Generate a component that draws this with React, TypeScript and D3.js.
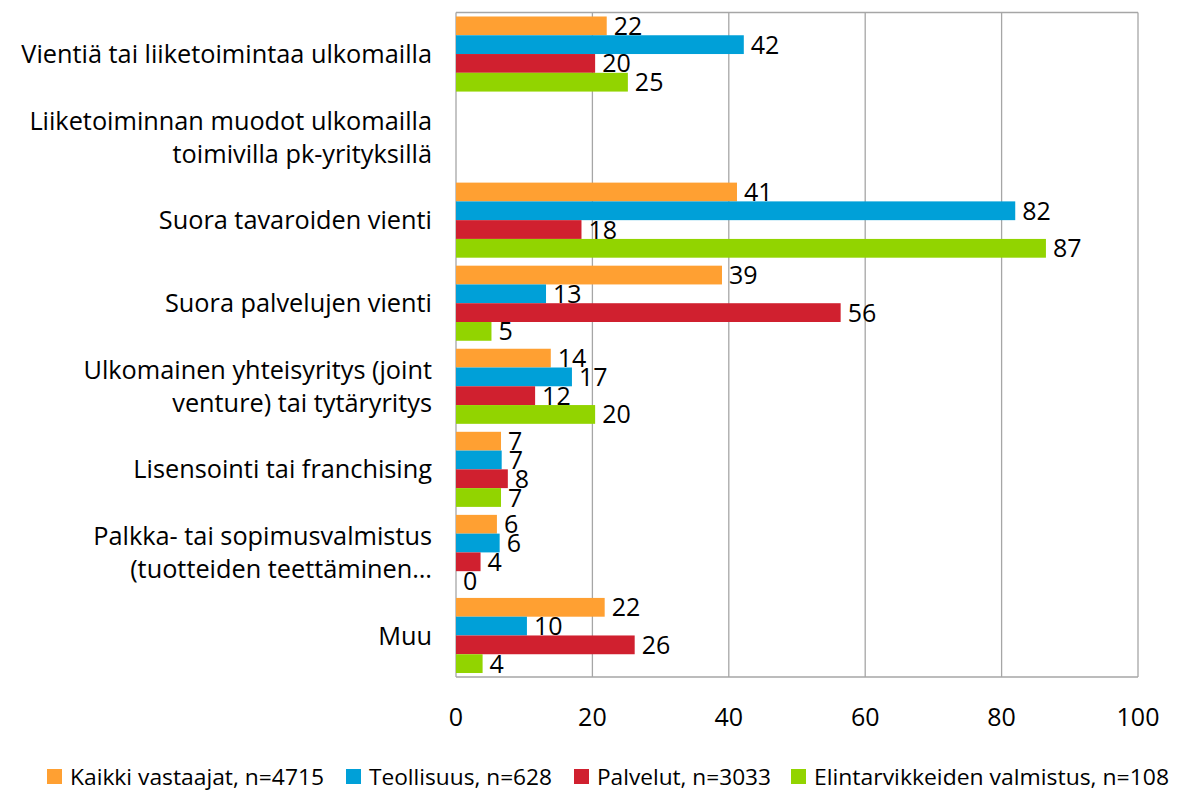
import React from "react";
import * as d3 from "d3";

const categories: string[][] = [
  ["Vientiä tai liiketoimintaa ulkomailla"],
  ["Liiketoiminnan muodot ulkomailla", "toimivilla pk-yrityksillä"],
  ["Suora tavaroiden vienti"],
  ["Suora palvelujen vienti"],
  ["Ulkomainen yhteisyritys (joint", "venture) tai tytäryritys"],
  ["Lisensointi tai franchising"],
  ["Palkka- tai sopimusvalmistus", "(tuotteiden teettäminen…"],
  ["Muu"],
];

const seriesNames = [
  "Kaikki vastaajat, n=4715",
  "Teollisuus, n=628",
  "Palvelut, n=3033",
  "Elintarvikkeiden valmistus, n=108",
];
const seriesColors = ["#FFA032", "#00A0D8", "#D0202F", "#92D400"];

// null = no bar / no label (header row)
const kaikki: (number | null)[] = [22.1, null, 41.2, 39.0, 13.9, 6.6, 6.0, 21.8];
const teollisuus: (number | null)[] = [42.2, null, 82.0, 13.2, 17.0, 6.7, 6.4, 10.4];
const palvelut: (number | null)[] = [20.4, null, 18.4, 56.4, 11.6, 7.6, 3.6, 26.2];
const elintarvike: (number | null)[] = [25.2, null, 86.5, 5.2, 20.4, 6.6, 0, 3.9];
const seriesValues = [kaikki, teollisuus, palvelut, elintarvike];

const xTicks = [0, 20, 40, 60, 80, 100];

const W = 1178;
const H = 791;
const left = 456;
const right = 1138;
const top = 12.5;
const bottom = 677;

export default function App() {
  const x = d3.scaleLinear().domain([0, 100]).range([left, right]);
  const y = d3
    .scaleBand<number>()
    .domain(categories.map((_, i) => i))
    .range([top, bottom])
    .paddingInner(0.096)
    .paddingOuter(0.048);
  const bandStep = (bottom - top) / categories.length;
  const y1 = d3
    .scaleBand<number>()
    .domain(seriesNames.map((_, i) => i))
    .range([0, y.bandwidth()]);
  const font = "Open Sans, sans-serif";
  const gridColor = "#a6a6a6";

  const legendX = [47, 346, 574, 791];
  const legendTextW = [254, 183, 174, 355];

  return (
    <svg
      width={W}
      height={H}
      style={{ position: "absolute", left: 0, top: 0, background: "#fff" }}
      fontFamily={font}
    >
      <rect x={0} y={0} width={W} height={H} fill="#fff" />
      {/* grid */}
      {xTicks.map((t) => (
        <line
          key={"g" + t}
          x1={x(t)}
          x2={x(t)}
          y1={top}
          y2={bottom}
          stroke={gridColor}
          strokeWidth={1.3}
        />
      ))}
      <line x1={left} x2={right} y1={top} y2={top} stroke={gridColor} strokeWidth={1.3} />
      <line x1={left} x2={right} y1={bottom} y2={bottom} stroke={gridColor} strokeWidth={1.3} />
      {/* bars */}
      {categories.map((_, ci) =>
        seriesValues.map((vals, si) => {
          const v = vals[ci];
          if (v === null) return null;
          const by = (y(ci) as number) + (y1(si) as number);
          const bh = y1.bandwidth();
          return (
            <g key={`b${ci}-${si}`}>
              {v > 0 && (
                <rect
                  x={x(0)}
                  y={by}
                  width={x(v) - x(0)}
                  height={bh}
                  fill={seriesColors[si]}
                />
              )}
              <text
                x={x(v) + 7}
                y={by + bh / 2}
                dy="0.36em"
                fontSize={25}
                fill="#000"
              >
                {Math.round(v)}
              </text>
            </g>
          );
        })
      )}
      {/* category labels */}
      {categories.map((lines, ci) => {
        const cy = top + bandStep * (ci + 0.5);
        const lh = 33;
        return (
          <text key={"c" + ci} textAnchor="end" fontSize={25.3} fill="#000">
            {lines.map((ln, li) => (
              <tspan
                key={li}
                x={432}
                y={cy + (li - (lines.length - 1) / 2) * lh}
                dy="0.36em"
              >
                {ln}
              </tspan>
            ))}
          </text>
        );
      })}
      {/* x tick labels */}
      {xTicks.map((t) => (
        <text
          key={"t" + t}
          x={x(t)}
          y={717}
          dy="0.36em"
          textAnchor="middle"
          fontSize={25}
          fill="#000"
        >
          {t}
        </text>
      ))}
      {/* legend */}
      {seriesNames.map((n, i) => (
        <g key={"l" + i}>
          <rect x={legendX[i]} y={769} width={15} height={15} fill={seriesColors[i]} />
          <text
            x={legendX[i] + 23}
            y={777}
            dy="0.36em"
            fontSize={22}
            textLength={legendTextW[i]}
            lengthAdjust="spacingAndGlyphs"
            fill="#000"
          >
            {n}
          </text>
        </g>
      ))}
    </svg>
  );
}
